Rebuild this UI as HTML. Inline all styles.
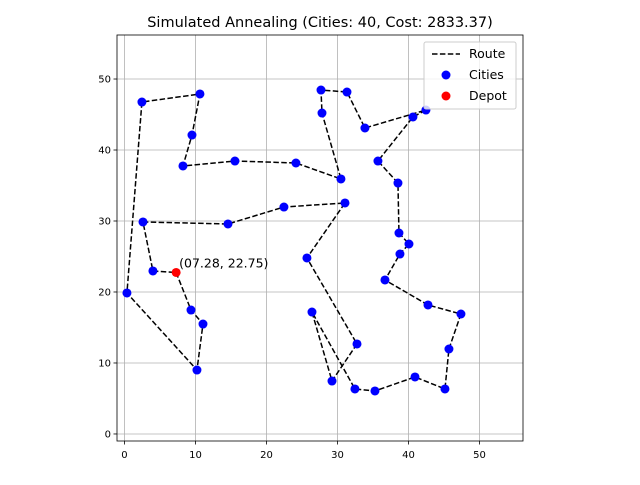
<!DOCTYPE html>
<html><head><meta charset="utf-8"><style>
body{margin:0;background:#fff;font-family:"Liberation Sans","DejaVu Sans",sans-serif}
svg text{font-family:"DejaVu Sans","Liberation Sans",sans-serif}
</style></head><body>
<svg id="chart" width="640" height="480" xmlns="http://www.w3.org/2000/svg">
<rect width="640" height="480" fill="#fff"/>
<text x="320" y="27" text-anchor="middle" font-size="14.5">Simulated Annealing (Cities: 40, Cost: 2833.37)</text>
<g id="grid"></g><g id="route"></g><g id="pts"></g><g id="axes"></g>
</svg>
<script>
const depot=[7.28,22.75];
const routeX=[9.37,11.06,10.21,0.35,2.46,10.63,9.51,8.24,15.56,24.15,30.49,27.82,27.68,31.34,33.87,42.46,40.63,35.70,38.52,38.66,40.07,38.80,36.69,42.75,47.39,45.70,45.14,40.92,35.28,32.46,26.41,29.23,32.75,25.70,31.06,22.46,14.58,2.61,4.01];
const routeY=[17.46,15.49,9.01,19.86,46.76,47.89,42.11,37.75,38.45,38.17,35.92,45.21,48.45,48.17,43.10,45.63,44.65,38.45,35.35,28.31,26.76,25.35,21.69,18.17,16.90,11.97,6.34,8.03,6.06,6.34,17.18,7.46,12.68,24.79,32.54,31.97,29.58,29.86,22.96];
const xTicks=[0,10,20,30,40,50];
const yTicks=[0,10,20,30,40,50];
const L=117,R=523,T=35,B=441,xmin=-1.05,xmax=56.13,ymin=-0.99,ymax=56.2;
const sx=v=>L+(v-xmin)/(xmax-xmin)*(R-L);
const sy=v=>B-(v-ymin)/(ymax-ymin)*(B-T);
const NS="http://www.w3.org/2000/svg";
function mk(t,a,p){const e=document.createElementNS(NS,t);for(const k in a)e.setAttribute(k,a[k]);p.appendChild(e);return e;}
const grid=document.getElementById('grid'),axes=document.getElementById('axes'),route=document.getElementById('route'),pts=document.getElementById('pts');
xTicks.forEach(t=>{const x=sx(t);
 let g=mk('line',{x1:x,x2:x,y1:T,y2:B,stroke:'#b0b0b0','stroke-width':0.8},grid);
 
 
 mk('line',{x1:x,x2:x,y1:B,y2:B+3.5,stroke:'#000','stroke-width':0.8},axes);
 let tx=mk('text',{x:x,y:B+17,'text-anchor':'middle','font-size':10},axes);tx.textContent=t;
 
 });
yTicks.forEach(t=>{const y=sy(t);
 let g=mk('line',{x1:L,x2:R,y1:y,y2:y,stroke:'#b0b0b0','stroke-width':0.8},grid);
 
 
 mk('line',{x1:L-3.5,x2:L,y1:y,y2:y,stroke:'#000','stroke-width':0.8},axes);
 let tx=mk('text',{x:L-6,y:y+3.5,'text-anchor':'end','font-size':10},axes);tx.textContent=t;
 
 });
mk('rect',{x:L,y:T,width:R-L,height:B-T,fill:'none',stroke:'#000','stroke-width':0.8},axes);
const allX=[depot[0],...routeX,depot[0]],allY=[depot[1],...routeY,depot[1]];
const path=mk('polyline',{points:allX.map((x,i)=>sx(x)+','+sy(allY[i])).join(' '),fill:'none',stroke:'#000','stroke-width':1.5,'stroke-dasharray':'5.5,2.4'},route);


routeX.forEach((x,i)=>{const c=mk('circle',{cx:sx(x),cy:sy(routeY[i]),r:4.5,fill:'#0000ff'},pts);
 
 });
const d=mk('circle',{cx:sx(depot[0]),cy:sy(depot[1]),r:4.5,fill:'#ff0000'},pts);


const an=mk('text',{x:sx(depot[0])+3,y:sy(depot[1])-5,'font-size':12.5},pts);
an.textContent='(07.28, 22.75)';


// legend
const lg=mk('g',{},pts);


mk('rect',{x:424,y:42,width:92,height:67,rx:2,fill:'#fff','fill-opacity':0.8,stroke:'#ccc'},lg);
mk('line',{x1:432,x2:460,y1:54,y2:54,stroke:'#000','stroke-width':1.5,'stroke-dasharray':'5.5,2.4'},lg);
mk('circle',{cx:446,cy:75,r:4.5,fill:'#0000ff'},lg);
mk('circle',{cx:446,cy:96,r:4.5,fill:'#ff0000'},lg);
[['Route',58],['Cities',79],['Depot',100]].forEach(([s,y])=>{const t=mk('text',{x:469,y:y,'font-size':12.5},lg);t.textContent=s;
 
 });
</script>
</body></html>
